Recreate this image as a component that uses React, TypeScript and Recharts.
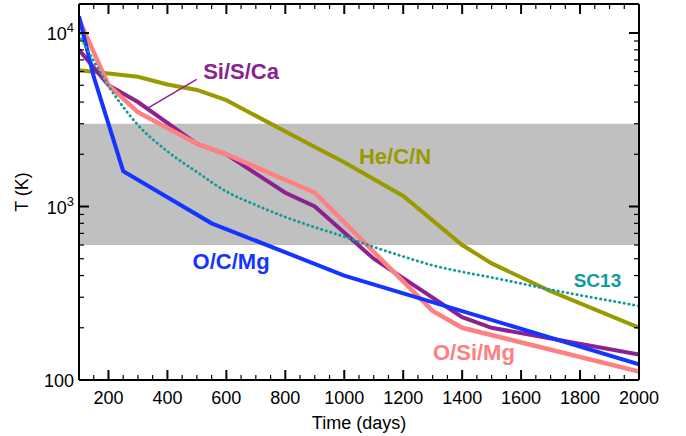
import React from 'react';
import { LineChart, Line, XAxis, YAxis, ReferenceArea, ReferenceDot, ReferenceLine, Label } from 'recharts';

const FONT = '"Liberation Sans", Arial, Helvetica, sans-serif';

// dust formation temperature band (K)
const BAND = [600, 3000];

// zone temperatures (days, K)
const OCMG_DAYS = [100, 150, 250, 550, 1000, 2000];
const OCMG_T = [12500, 5600, 1600, 800, 400, 123];

const OSIMG_DAYS = [100, 200, 300, 500, 600, 900, 1300, 1400, 2000];
const OSIMG_T = [12000, 5000, 3500, 2300, 2000, 1200, 250, 200, 112];

const SISCA_DAYS = [100, 200, 300, 500, 600, 800, 900, 1100, 1400, 1500, 2000];
const SISCA_T = [8000, 5000, 4000, 2300, 2000, 1200, 1000, 500, 230, 200, 140];

const HECN_DAYS = [100, 300, 400, 500, 600, 900, 1000, 1200, 1400, 1500, 1700, 2000];
const HECN_T = [6100, 5600, 5050, 4700, 4100, 2200, 1800, 1150, 600, 470, 325, 200];

const SC13_DAYS = [100, 150, 200, 250, 300, 400, 500, 600, 700, 800, 900, 1000, 1100, 1200, 1300, 1400, 1500, 1600, 1700, 1800, 1900, 2000];
const SC13_T = [9800, 6900, 4950, 3750, 2950, 2080, 1580, 1220, 1020, 870, 760, 670, 585, 515, 458, 420, 390, 360, 332, 308, 287, 267];

const X_TICKS = [150, 200, 250, 300, 350, 400, 450, 500, 550, 600, 650, 700, 750, 800, 850, 900, 950, 1000,
  1050, 1100, 1150, 1200, 1250, 1300, 1350, 1400, 1450, 1500, 1550, 1600, 1650, 1700, 1750, 1800, 1850, 1900, 1950, 2000];
const Y_TICKS = [100, 200, 300, 400, 500, 600, 700, 800, 900, 1000, 2000, 3000, 4000, 5000, 6000, 7000, 8000, 9000, 10000];

const COLORS = {
  ocmg: '#1335ff',
  osimg: '#ff8080',
  sisca: '#8c2191',
  hecn: '#999900',
  sc13: '#119a9a',
};

// text annotations, placed in data coordinates
const NOTES = [
  { text: 'Si/S/Ca', x: 650, y: 6000, color: COLORS.sisca, size: 22 },
  { text: 'He/C/N', x: 1172, y: 1940, color: COLORS.hecn, size: 22 },
  { text: 'O/C/Mg', x: 616, y: 482, color: COLORS.ocmg, size: 22 },
  { text: 'SC13', x: 1859, y: 375, color: COLORS.sc13, size: 19 },
  { text: 'O/Si/Mg', x: 1440, y: 144, color: COLORS.osimg, size: 22 },
];
const LEADER = [{ x: 499, y: 5400 }, { x: 335, y: 3700 }];

const toRows = (days: number[], temps: number[]) => days.map((d, i) => ({ x: d, t: temps[i] }));

const isMajorX = (v: number) => v % 200 === 0;
const isMajorY = (v: number) => Math.abs(Math.log10(v) - Math.round(Math.log10(v))) < 1e-6;

const BottomTick = (props: any) => {
  const { x, y, payload } = props;
  const major = isMajorX(payload.value);
  return (
    <g>
      <line x1={x} x2={x} y1={y} y2={y - (major ? 10 : 5)} stroke="#000" strokeWidth={major ? 2 : 1.2} />
      {major && (
        <text x={x} y={y + 23.5} textAnchor="middle" fontSize={18} fontFamily={FONT} fill="#000">
          {payload.value}
        </text>
      )}
    </g>
  );
};

const TopTick = (props: any) => {
  const { x, y, payload } = props;
  const major = isMajorX(payload.value);
  return <line x1={x} x2={x} y1={y} y2={y + (major ? 10 : 5)} stroke="#000" strokeWidth={major ? 2 : 1.2} />;
};

const LeftTick = (props: any) => {
  const { x, y, payload } = props;
  const v = payload.value;
  const major = isMajorY(v);
  const exp = Math.round(Math.log10(v));
  return (
    <g>
      <line x1={x} x2={x + (major ? 10 : 5)} y1={y} y2={y} stroke="#000" strokeWidth={major ? 2 : 1.2} />
      {major && (
        <text x={x - 5} y={y + 7} textAnchor="end" fontSize={18} fontFamily={FONT} fill="#000">
          {exp === 2 ? (
            '100'
          ) : (
            <>
              <tspan>10</tspan>
              <tspan dy={-8} fontSize={13}>{exp}</tspan>
            </>
          )}
        </text>
      )}
    </g>
  );
};

const RightTick = (props: any) => {
  const { x, y, payload } = props;
  const major = isMajorY(payload.value);
  return <line x1={x} x2={x - (major ? 10 : 5)} y1={y} y2={y} stroke="#000" strokeWidth={major ? 2 : 1.2} />;
};

export default function App() {
  const axisLine = { stroke: '#000', strokeWidth: 2 };
  return (
    <div style={{ position: 'absolute', left: 0, top: 0, width: 686, height: 436, background: '#fff' }}>
      <LineChart width={686} height={436} margin={{ top: 0, right: 0, bottom: 0, left: 0 }}>
        <XAxis
          type="number"
          dataKey="x"
          domain={[100, 2000]}
          allowDataOverflow
          ticks={X_TICKS}
          interval={0}
          tickSize={0}
          tickMargin={0}
          tick={<BottomTick />}
          axisLine={axisLine}
          height={56}
        >
          <Label
            value="Time (days)"
            position="insideBottom"
            offset={7.5}
            style={{ fontSize: 18, fontFamily: FONT, fill: '#000' }}
          />
        </XAxis>
        <XAxis
          xAxisId="top"
          orientation="top"
          type="number"
          dataKey="x"
          domain={[100, 2000]}
          allowDataOverflow
          ticks={X_TICKS}
          interval={0}
          tickSize={0}
          tickMargin={0}
          tick={<TopTick />}
          axisLine={axisLine}
          height={4}
        />
        <YAxis
          type="number"
          scale="log"
          domain={[100, 14700]}
          allowDataOverflow
          ticks={Y_TICKS}
          interval={0}
          tickSize={0}
          tickMargin={0}
          tick={<LeftTick />}
          axisLine={axisLine}
          width={79}
        >
          <Label
            content={(p: any) => {
              const vb = p.viewBox || {};
              const cx = (vb.x ?? 0) + 22;
              const cy = (vb.y ?? 4) + (vb.height ?? 376) / 2;
              return (
                <text
                  x={cx}
                  y={cy}
                  transform={`rotate(-90 ${cx} ${cy})`}
                  textAnchor="middle"
                  dominantBaseline="central"
                  fontSize={18}
                  fontFamily={FONT}
                  fill="#000"
                >
                  T (K)
                </text>
              );
            }}
          />
        </YAxis>
        <YAxis
          yAxisId="right"
          orientation="right"
          type="number"
          scale="log"
          domain={[100, 14700]}
          allowDataOverflow
          ticks={Y_TICKS}
          interval={0}
          tickSize={0}
          tickMargin={0}
          tick={<RightTick />}
          axisLine={axisLine}
          width={47}
        />

        <ReferenceArea y1={BAND[0]} y2={BAND[1]} fill="#c0c0c0" fillOpacity={1} stroke="none" />

        <Line data={toRows(HECN_DAYS, HECN_T)} dataKey="t" type="linear" stroke={COLORS.hecn} strokeWidth={4} dot={false} isAnimationActive={false} />
        <Line data={toRows(SISCA_DAYS, SISCA_T)} dataKey="t" type="linear" stroke={COLORS.sisca} strokeWidth={4} dot={false} isAnimationActive={false} />
        <Line data={toRows(OSIMG_DAYS, OSIMG_T)} dataKey="t" type="linear" stroke={COLORS.osimg} strokeWidth={4.5} dot={false} isAnimationActive={false} />
        <Line data={toRows(OCMG_DAYS, OCMG_T)} dataKey="t" type="linear" stroke={COLORS.ocmg} strokeWidth={4} dot={false} isAnimationActive={false} />
        <Line
          data={toRows(SC13_DAYS, SC13_T)}
          dataKey="t"
          type="monotone"
          stroke={COLORS.sc13}
          strokeWidth={2.8}
          strokeDasharray="0.4 4.4"
          strokeLinecap="round"
          dot={false}
          isAnimationActive={false}
        />

        <ReferenceLine segment={LEADER} stroke={COLORS.sisca} strokeWidth={1.5} />
        {NOTES.map((n) => (
          <ReferenceDot
            key={n.text}
            x={n.x}
            y={n.y}
            r={0}
            shape={(p: any) => (
              <text
                x={p.cx}
                y={p.cy}
                textAnchor="middle"
                dominantBaseline="central"
                fontSize={n.size}
                fontWeight="bold"
                fontFamily={FONT}
                fill={n.color}
              >
                {n.text}
              </text>
            )}
          />
        ))}
      </LineChart>
    </div>
  );
}
